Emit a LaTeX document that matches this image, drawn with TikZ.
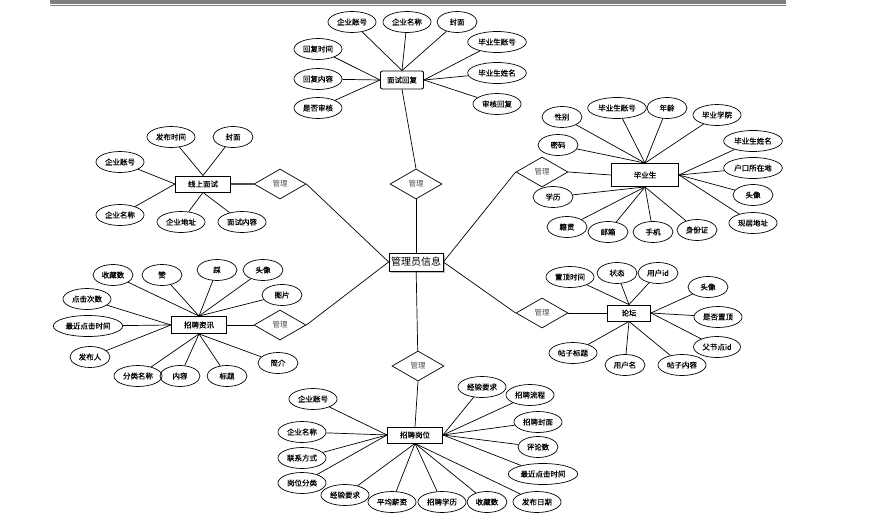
\documentclass[tikz,border=0pt]{standalone}
\usepackage{fontspec}
\setmainfont{Noto Sans CJK SC}
\newfontfamily\cjkb{Noto Sans CJK SC}[FakeBold=0.5]
\usetikzlibrary{shapes.geometric}
\begin{document}
\begin{tikzpicture}[x=1pt,y=-1pt,
 attr/.style={ellipse,draw,line width=0.7pt,minimum width=40pt,minimum height=21pt,inner xsep=2pt,inner ysep=1pt,font=\cjkb\fontsize{7.5}{8}\selectfont},
 ent/.style={rectangle,draw,line width=0.9pt,inner sep=0pt,font=\cjkb\fontsize{7.5}{8}\selectfont},
 rel/.style={diamond,draw,line width=0.7pt,minimum width=52pt,minimum height=30pt,inner sep=0pt,text=black!70,font=\fontsize{7.5}{8}\selectfont},
 lk/.style={line width=0.7pt}]
\useasboundingbox (0,0) rectangle (876,525);
% top bar
\fill[black!50] (50,0) rectangle (786,3.5);
\draw[black!50,line width=0.8pt] (50,5.5) -- (786,5.5);

% central
\fill[black!25] (391,255) rectangle (445,273);
\node[ent,fill=white,line width=0.7pt,minimum width=54pt,minimum height=18pt,font=\fontsize{10}{11}\selectfont] (admin) at (416,262) {管理员信息};

% relations
\node[rel] (r1) at (416,184) {管理};
\node[rel] (r2) at (280,184) {管理};
\node[rel] (r3) at (542,172) {管理};
\node[rel] (r4) at (280,325) {管理};
\node[rel] (r5) at (542,313) {管理};
\node[rel] (r6) at (418,366) {管理};

% entities
\node[ent,rounded corners=2pt,minimum width=43pt,minimum height=18pt] (mshf) at (402,80) {面试回复};
\node[ent,minimum width=67pt,minimum height=23pt] (bys) at (645,175) {毕业生};
\node[ent,minimum width=55pt,minimum height=16pt] (xsms) at (203,184) {线上面试};
\node[ent,minimum width=55pt,minimum height=17pt] (zpzx) at (199,325) {招聘资讯};
\node[ent,minimum width=43pt,minimum height=16pt] (lt) at (629,313) {论坛};
\node[ent,minimum width=55pt,minimum height=16pt] (zpgw) at (415,435) {招聘岗位};

% central links
\draw[lk] (admin) -- (r1);
\draw[lk] (admin.west) -- (r2.east);
\draw[lk] (admin.east) -- (r3.west);
\draw[lk] (admin.west) -- (r4.east);
\draw[lk] (admin.east) -- (r5.west);
\draw[lk] (admin) -- (r6);
\draw[lk] (r1.north) -- (mshf.south);
\draw[line width=1.4pt,black!70] (r2.west) -- (xsms.east);
\draw[lk] (r3.east) -- (bys.west);
\draw[lk] (r4.west) -- (zpzx.east);
\draw[lk] (r5.east) -- (lt.west);
\draw[lk] (r6.south) -- (zpgw.north);

% 面试回复
\node[attr] (m1) at (352,22) {企业账号};
\node[attr] (m2) at (407,22) {企业名称};
\node[attr] (m3) at (457,22) {封面};
\node[attr] (m4) at (497,42) {毕业生账号};
\node[attr] (m5) at (497,73) {毕业生姓名};
\node[attr] (m6) at (497,104) {审核回复};
\node[attr] (m7) at (318,49) {回复时间};
\node[attr] (m8) at (318,79) {回复内容};
\node[attr] (m9) at (318,108) {是否审核};
\foreach \a in {m1,m2,m3} \draw[lk] (\a) -- (mshf.north);
\foreach \a in {m4,m5,m6} \draw[lk] (\a) -- (mshf.east);
\foreach \a in {m7,m8,m9} \draw[lk] (\a) -- (mshf.west);

% 毕业生
\node[attr] (b1) at (562,117) {性别};
\node[attr] (b2) at (617,108) {毕业生账号};
\node[attr] (b3) at (667,108) {年龄};
\node[attr] (b4) at (717,115) {毕业学院};
\node[attr] (b5) at (753,141) {毕业生姓名};
\node[attr] (b6) at (753,168) {户口所在地};
\node[attr] (b7) at (753,195) {头像};
\node[attr] (b8) at (753,223) {现居地址};
\node[attr] (b9) at (697,230) {身份证};
\node[attr] (b10) at (653,232) {手机};
\node[attr] (b11) at (608,232) {邮箱};
\node[attr] (b12) at (567,227) {籍贯};
\node[attr] (b13) at (553,197) {学历};
\node[attr] (b14) at (558,145) {密码};
\foreach \a in {b1,b2,b3,b4,b14} \draw[lk] (\a) -- (bys.north);
\foreach \a in {b5,b6,b7,b8} \draw[lk] (\a) -- (bys.east);
\foreach \a in {b9,b10,b11,b12,b13} \draw[lk] (\a) -- (bys.south);

% 线上面试
\node[attr] (x1) at (171,137) {发布时间};
\node[attr] (x2) at (233,137) {封面};
\node[attr] (x3) at (120,162) {企业账号};
\node[attr] (x4) at (120,215) {企业名称};
\node[attr] (x5) at (181,222) {企业地址};
\node[attr] (x6) at (242,222) {面试内容};
\foreach \a in {x1,x2} \draw[lk] (\a) -- (xsms.north);
\foreach \a in {x3,x4} \draw[lk] (\a) -- (xsms.west);
\foreach \a in {x5,x6} \draw[lk] (\a) -- (xsms.south);

% 招聘资讯
\node[attr] (z1) at (113,275) {收藏数};
\node[attr] (z2) at (162,275) {赞};
\node[attr] (z3) at (217,270) {踩};
\node[attr] (z4) at (263,270) {头像};
\node[attr] (z5) at (282,295) {图片};
\node[attr] (z6) at (87,299) {点击次数};
\node[attr] (z7) at (88,326) {最近点击时间};
\node[attr] (z8) at (90,357) {发布人};
\node[attr] (z9) at (138,376) {分类名称};
\node[attr] (z10) at (180,376) {内容};
\node[attr] (z11) at (227,376) {标题};
\node[attr] (z12) at (278,363) {简介};
\foreach \a in {z1,z2,z3,z4,z5} \draw[lk] (\a) -- (zpzx.north);
\foreach \a in {z6,z7,z8} \draw[lk] (\a) -- (zpzx.west);
\foreach \a in {z9,z10,z11,z12} \draw[lk] (\a) -- (zpzx.south);

% 论坛
\node[attr] (l1) at (570,277) {置顶时间};
\node[attr] (l2) at (617,273) {状态};
\node[attr] (l3) at (658,273) {用户id};
\node[attr] (l4) at (708,287) {头像};
\node[attr] (l5) at (718,317) {是否置顶};
\node[attr] (l6) at (717,347) {父节点id};
\node[attr] (l7) at (682,365) {帖子内容};
\node[attr] (l8) at (625,365) {用户名};
\node[attr] (l9) at (573,353) {帖子标题};
\foreach \a in {l1,l2,l3} \draw[lk] (\a) -- (lt.north);
\foreach \a in {l4,l5,l6} \draw[lk] (\a) -- (lt.east);
\foreach \a in {l7,l8,l9} \draw[lk] (\a) -- (lt.south);

% 招聘岗位
\node[attr] (g1) at (313,399) {企业账号};
\node[attr] (g2) at (302,432) {企业名称};
\node[attr] (g3) at (302,458) {联系方式};
\node[attr] (g4) at (302,483) {岗位分类};
\node[attr] (g5) at (345,495) {经验要求};
\node[attr] (g6) at (392,502) {平均薪资};
\node[attr] (g7) at (442,502) {招聘学历};
\node[attr] (g8) at (487,502) {收藏数};
\node[attr] (g9) at (537,502) {发布日期};
\node[attr] (g10) at (543,474) {最近点击时间};
\node[attr] (g11) at (538,447) {评论数};
\node[attr] (g12) at (538,422) {招聘封面};
\node[attr] (g13) at (530,395) {招聘流程};
\node[attr] (g14) at (482,387) {经验要求};
\foreach \a in {g1,g2,g3,g4} \draw[lk] (\a) -- (zpgw.west);
\foreach \a in {g5,g6,g7,g8,g9} \draw[lk] (\a) -- (zpgw.south);
\foreach \a in {g10,g11,g12,g13,g14} \draw[lk] (\a) -- (zpgw.east);
\end{tikzpicture}
\end{document}
